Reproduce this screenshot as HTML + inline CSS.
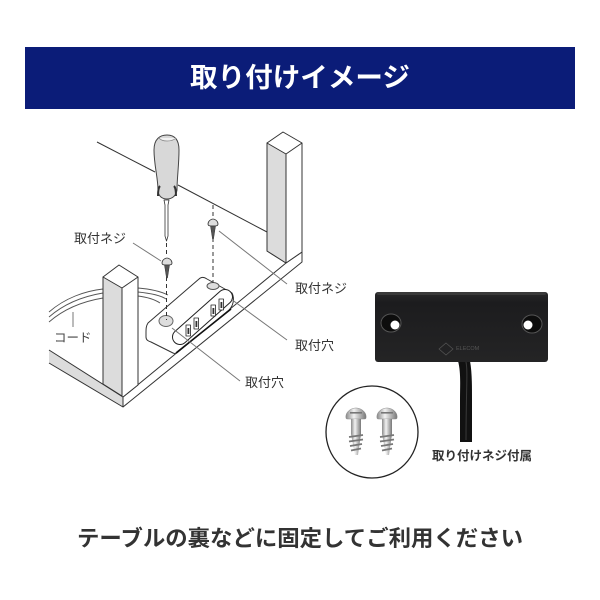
<!DOCTYPE html>
<html><head><meta charset="utf-8"><style>
html,body{margin:0;padding:0;background:#fff;width:600px;height:600px;overflow:hidden}
svg{display:block}
text{font-family:"Liberation Sans","Noto Sans CJK JP",sans-serif}
</style></head><body>
<svg width="600" height="600" viewBox="0 0 600 600" xmlns="http://www.w3.org/2000/svg">
<defs>
<linearGradient id="sc" x1="0" x2="1" y1="0" y2="0"><stop offset="0" stop-color="#8a8a8a"/><stop offset=".4" stop-color="#f2f2f2"/><stop offset="1" stop-color="#777"/></linearGradient>
<linearGradient id="blk" x1="0" x2="0" y1="0" y2="1"><stop offset="0" stop-color="#2a2a2b"/><stop offset=".15" stop-color="#1c1c1e"/><stop offset="1" stop-color="#242425"/></linearGradient>
<g id="screw">
<path d="M-10 5C-11 -1 -5 -5 0 -5S11 -1 10 5C10 6 9 6 8 6H-8C-9 6 -10 6 -10 5Z" fill="url(#sc)" stroke="#888" stroke-width=".5"/>
<rect x="-6" y="-1" width="12" height="1.6" fill="#777"/>
<rect x="-5" y="6" width="10" height="15" fill="url(#sc)"/>
<path d="M-5 21H5L2 42H-1Z" fill="url(#sc)"/>
<path d="M-7 24L7 22M-7 28.500L7 26.500M-6 33L6 31M-5 37.500L5 35.500" stroke="#777" stroke-width="1.8"/>
</g>
<g id="mini">
<path d="M-5 1C-5 -2 -2 -4 0 -4S5 -2 5 1C5 3 3 3 0 3S-5 3 -5 1Z" fill="#ddd" stroke="#333" stroke-width=".8"/>
<path d="M-2.500 3H2.500L.5 16H-.5Z" fill="#555" stroke="#333" stroke-width=".5"/>
</g>
</defs>
<rect x="25" y="47" width="550" height="62" fill="#0b1c78"/>
<text x="190" y="87" font-size="27" font-weight="700" fill="#fff" textLength="220" lengthAdjust="spacingAndGlyphs">取り付けイメージ</text>

<g fill="none" stroke="#333" stroke-width="1" stroke-linejoin="round">
<path d="M97 142L155 172M178 185L267 232" />
<!-- tabletop -->
<path d="M49 350L123 397V407L49 363Z" fill="#dcdcdc" stroke="none"/>
<path d="M49 350L123 397V407L49 363"/>
<path d="M123 397L286 263M123 407L302 262V252L286 263"/>
<!-- right leg -->
<path d="M267 143L283 132L302 143V252L286 263L267 251Z" fill="#fff"/>
<path d="M267 143L286 154V263L267 251Z" fill="#dcdcdc"/>
<path d="M286 154L302 143"/>
<!-- cord -->
<path d="M49 312C65 298 85 291 103 289M49 317C65 303 85 296 103 293M49 322C65 308 85 301 103 298" stroke="#555" stroke-width=".9"/>
<path d="M138 288C150 289 160 291 168 295M138 292C148 293 160 295 166 299M138 296C146 297 154 299 160 303" stroke="#555" stroke-width=".9"/>
<path d="M73 312V327" stroke="#777"/>
<!-- left leg -->
<path d="M103 277L119 265L138 277V385L123 397L103 384Z" fill="#fff"/>
<path d="M103 277L122 288V396L103 384Z" fill="#dcdcdc"/>
<path d="M122 288L138 277"/>
<!-- device -->
<path d="M148 323C146 326 146 329 146 333V337C146 340 148 341 151 342L173 353C175 354 177 353 178 352L229 310C233 306 235 299 232 293L207 279C204 277 201 277 199 279Z" fill="#fff"/>
<path d="M180 337L225 297" stroke="#222" stroke-width="16" stroke-linecap="round"/>
<path d="M180 337L225 297" stroke="#fff" stroke-width="14" stroke-linecap="round"/>
<path d="M176 353L231 309" stroke="#111" stroke-width="1.6"/>
<ellipse cx="166" cy="321" rx="7" ry="5.500" fill="#ddd" stroke="#666"/>
<ellipse cx="213" cy="286" rx="6" ry="3.500" fill="#ddd" stroke="#555"/>
<g fill="#fff" stroke="#222" stroke-width=".8">
<rect x="186" y="325" width="4.500" height="11"/><rect x="194" y="318" width="4.500" height="11"/>
<rect x="211" y="305" width="4.500" height="11"/><rect x="219" y="299" width="4.500" height="11"/>
</g>
<g fill="#333" stroke="none">
<rect x="187.500" y="328" width="1.800" height="6"/><rect x="195.500" y="321" width="1.800" height="6"/>
<rect x="212.500" y="308" width="1.800" height="6"/><rect x="220.500" y="302" width="1.800" height="6"/>
</g>
<!-- screwdriver -->
<path d="M154 150C154 139 160 135 167 135C174 135 179 139 179 150C179 165 177 178 177 190C176 196 172 199 167 199C162 199 158 196 158 190C158 178 154 165 154 150Z" fill="#d8d8d8" stroke="#444"/>
<path d="M158 196C158 190 159 187 160 186M176 196C176 190 175 187 174 186" stroke="#333" stroke-width="2"/>
<path d="M159 138C162 142 172 142 176 138" fill="#f2f2f2" stroke="#888" stroke-width=".7"/>
<path d="M164 200H169L168 205V236L166.500 241L165 236V205Z" fill="#fff" stroke="#333" stroke-width=".8"/>
<!-- dashed -->
<path d="M166.500 243V257M166.500 277V320M213 205V217M213 238V283" stroke-dasharray="4 3" stroke="#333"/>
<!-- leaders -->
<g stroke="#777">
<path d="M133 243L161 261M219 231L287 284M231 299L287 340M172 328L240 381"/>
</g>
</g>
<use href="#mini" transform="translate(167 262)"/>
<use href="#mini" transform="translate(213 223)"/>

<g font-size="13" fill="#333">
<text x="74" y="243">取付ネジ</text>
<text x="295" y="293">取付ネジ</text>
<text x="295" y="350">取付穴</text>
<text x="245" y="387">取付穴</text>
<text x="54" y="342" font-size="12.500" fill="#444">コード</text>
</g>

<!-- cable -->
<path d="M458 361C461 372 460 385 460 400V442H472V400C472 385 472 372 470 361Z" fill="#111"/>
<path d="M466 362C468 372 466 390 466 440" stroke="#3a3a3a" stroke-width="1" fill="none"/>
<!-- device photo -->
<rect x="375" y="292" width="173" height="70" rx="3" fill="url(#blk)"/>
<rect x="377" y="292" width="169" height="3" rx="1.500" fill="#3a3a3a"/>
<ellipse cx="391" cy="323" rx="10" ry="9" fill="#0d0d0d" stroke="#555"/>
<ellipse cx="532" cy="324" rx="10" ry="9" fill="#0d0d0d" stroke="#555"/>
<circle cx="395" cy="325" r="4.500" fill="#fff"/>
<circle cx="528" cy="325" r="4.500" fill="#fff"/>
<path d="M446 343l7 6-7 6-7-6z" fill="none" stroke="#555" stroke-width=".7"/>
<text x="456" y="350" font-size="5.500" fill="#555">ELECOM</text>
<!-- circle -->
<circle cx="372" cy="432" r="46" fill="#fff" stroke="#222" stroke-width="1.300"/>
<use href="#screw" transform="translate(356 413)"/>
<use href="#screw" transform="translate(387 413)"/>
<text x="432" y="460" font-size="12.500" font-weight="700" fill="#333" textLength="100" lengthAdjust="spacingAndGlyphs">取り付けネジ付属</text>
<text x="77" y="546" font-size="22" font-weight="700" fill="#333" textLength="446" lengthAdjust="spacingAndGlyphs">テーブルの裏などに固定してご利用ください</text>
</svg>
</body></html>
